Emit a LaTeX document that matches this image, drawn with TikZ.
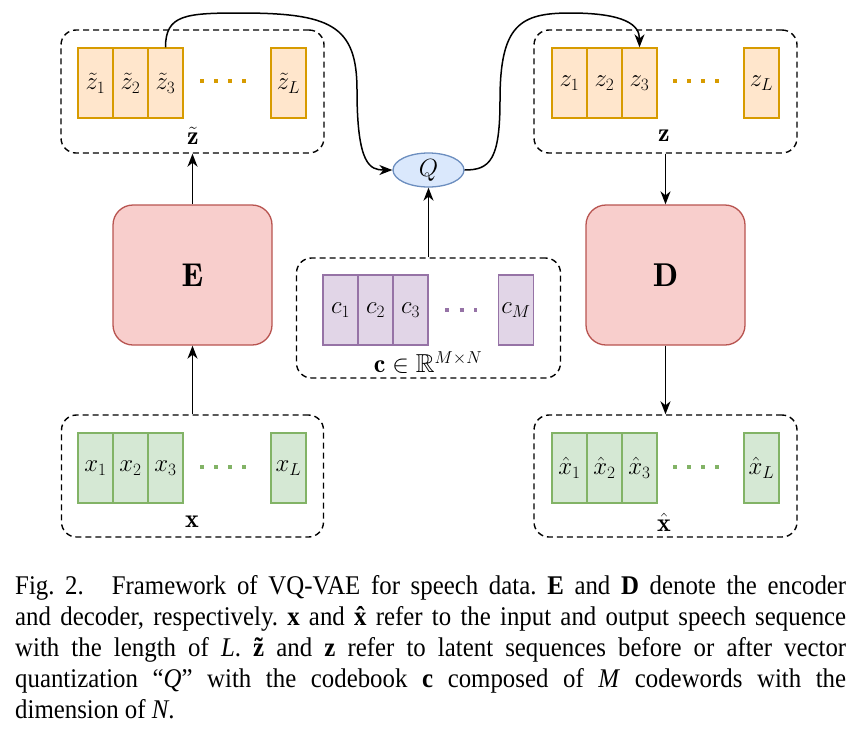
\documentclass[tikz,border=0pt]{standalone}
\usepackage{amssymb}
\usepackage{fontspec}
\newfontfamily\capfont[FakeStretch=0.92]{Liberation Serif}
\usetikzlibrary{arrows.meta,shapes.geometric}
\definecolor{orF}{HTML}{FFE6CC}\definecolor{orD}{HTML}{D79B00}
\definecolor{grF}{HTML}{D5E8D4}\definecolor{grD}{HTML}{82B366}
\definecolor{puF}{HTML}{E1D5E7}\definecolor{puD}{HTML}{9673A6}
\definecolor{blF}{HTML}{DAE8FC}\definecolor{blD}{HTML}{6C8EBF}
\definecolor{rdF}{HTML}{F8CECC}\definecolor{rdD}{HTML}{B85450}
\tikzset{
  mfont/.style={font=\fontsize{25}{30}\selectfont},
  cellbox/.style={draw, line width=1.3pt, minimum width=35pt, minimum height=70pt, inner sep=0pt, mfont},
  orcell/.style={cellbox, fill=orF, draw=orD},
  grcell/.style={cellbox, fill=grF, draw=grD},
  pucell/.style={cellbox, fill=puF, draw=puD},
  container/.style={draw, line width=1.4pt, dash pattern=on 6pt off 4pt, rounded corners=15pt, inner sep=0pt},
  block/.style={draw=rdD, fill=rdF, line width=1.3pt, rounded corners=20pt, minimum width=159pt, minimum height=140pt, font=\fontsize{33}{40}\selectfont},
  conn/.style={line width=1.5pt, -{Stealth[length=13pt,width=10pt,inset=4pt]}},
  dotrow/.style={line width=4pt, dash pattern=on 4pt off 10pt},
  lab/.style={inner sep=0pt, font=\fontsize{26}{30}\selectfont},
}
\begin{document}
\begin{tikzpicture}[x=1pt,y=-1pt]
\useasboundingbox (0,0) rectangle (853,737);
% containers
\node[container, minimum width=263pt, minimum height=123pt] (ztc) at (192.5,91.5) {};
\node[container, minimum width=263pt, minimum height=123pt] (zc) at (665.5,91.5) {};
\node[container, minimum width=264pt, minimum height=120pt] (cc) at (428.5,318) {};
\node[container, minimum width=262pt, minimum height=122pt] (xc) at (192.5,476) {};
\node[container, minimum width=263pt, minimum height=122pt] (xhc) at (665.5,476) {};
% z tilde cells
\node[orcell] (zt1) at (95.5,83) {$\tilde z_1$};
\node[orcell] (zt2) at (130.5,83) {$\tilde z_2$};
\node[orcell] (zt3) at (165.5,83) {$\tilde z_3$};
\node[orcell] (ztL) at (288.5,83) {$\tilde z_L$};
\draw[dotrow, orD] (200,81) -- (246,81);
\node[lab] (ztlab) at (193,136) {$\tilde{\mathbf{z}}$};
% z cells
\node[orcell] (z1) at (569.5,83) {$z_1$};
\node[orcell] (z2) at (604.5,83) {$z_2$};
\node[orcell] (z3) at (639.5,83) {$z_3$};
\node[orcell] (zL) at (761.5,83) {$z_L$};
\draw[dotrow, orD] (673,81) -- (719,81);
\node[lab] (zlab) at (664,136) {$\mathbf{z}$};
% codebook
\node[pucell] (c1) at (340.5,310) {$c_1$};
\node[pucell] (c2) at (375.5,310) {$c_2$};
\node[pucell] (c3) at (410.5,310) {$c_3$};
\node[pucell] (cM) at (516,310) {$c_M$};
\draw[line width=4pt, dash pattern=on 4pt off 10.5pt, puD] (445,310) -- (477,310);
\node[lab] (clab) at (428,363) {$\mathbf{c}\in\mathbb{R}^{M\times N}$};
% x cells
\node[grcell] (x1) at (95.5,468) {$x_1$};
\node[grcell] (x2) at (130.5,468) {$x_2$};
\node[grcell] (x3) at (165.5,468) {$x_3$};
\node[grcell] (xL) at (288.5,468) {$x_L$};
\draw[dotrow, grD] (200,467) -- (246,467);
\node[lab] (xlab) at (192,522) {$\mathbf{x}$};
% x hat cells
\node[grcell] (xh1) at (569.5,468) {$\hat x_1$};
\node[grcell] (xh2) at (604.5,468) {$\hat x_2$};
\node[grcell] (xh3) at (639.5,468) {$\hat x_3$};
\node[grcell] (xhL) at (761.5,468) {$\hat x_L$};
\draw[dotrow, grD] (673,467) -- (719,467);
\node[lab] (xhlab) at (664,522) {$\hat{\mathbf{x}}$};
% blocks
\node[block] (E) at (192.5,275) {$\mathbf{E}$};
\node[block] (D) at (665.5,275) {$\mathbf{D}$};
\node[ellipse, draw=blD, fill=blF, line width=1.3pt, minimum width=71pt, minimum height=34pt, inner sep=0pt, mfont] (Q) at (428.5,170) {$Q$};
% connectors
\draw[conn] (xc.north) -- (E.south);
\draw[conn] (E.north) -- (ztc.south);
\draw[conn] (cc.north) -- (Q.south);
\draw[conn] (zc.south) -- (D.north);
\draw[conn] (D.south) -- (xhc.north);
\draw[conn] (zt3.north) .. controls (165.5,15) and (185,13) .. (240,13)
  .. controls (330,13) and (357,25) .. (357,90)
  .. controls (357,165) and (370,170) .. (Q.west);
\draw[conn] (Q.east) .. controls (490,170) and (500,160) .. (500,100)
  .. controls (500,25) and (520,13) .. (570,13)
  .. controls (625,13) and (639.5,25) .. (z3.north);
% caption
\node[anchor=north west, text width=831pt, inner sep=0pt, align=justify,
  font=\capfont\fontsize{27}{31}\selectfont\frenchspacing] (cap) at (15,575) {%
\hyphenpenalty=10000 \exhyphenpenalty=10000\relax
Fig.~2.\hspace{28pt}Framework of VQ-VAE for speech data. \textbf{E} and \textbf{D} denote the encoder\linebreak
and decoder, respectively. \textbf{x} and \textbf{\makebox[0pt][l]{\hspace{0.085em}ˆ}x} refer to the input and output speech sequence\linebreak
with the length of \textit{L}. \textbf{\makebox[0pt][l]{\hspace{0.055em}˜}z} and \textbf{z} refer to latent sequences before or after vector\linebreak
quantization “\textit{Q}” with the codebook \textbf{c} composed of \textit{M} codewords with the\linebreak
dimension of \textit{N}.};
\end{tikzpicture}
\end{document}
